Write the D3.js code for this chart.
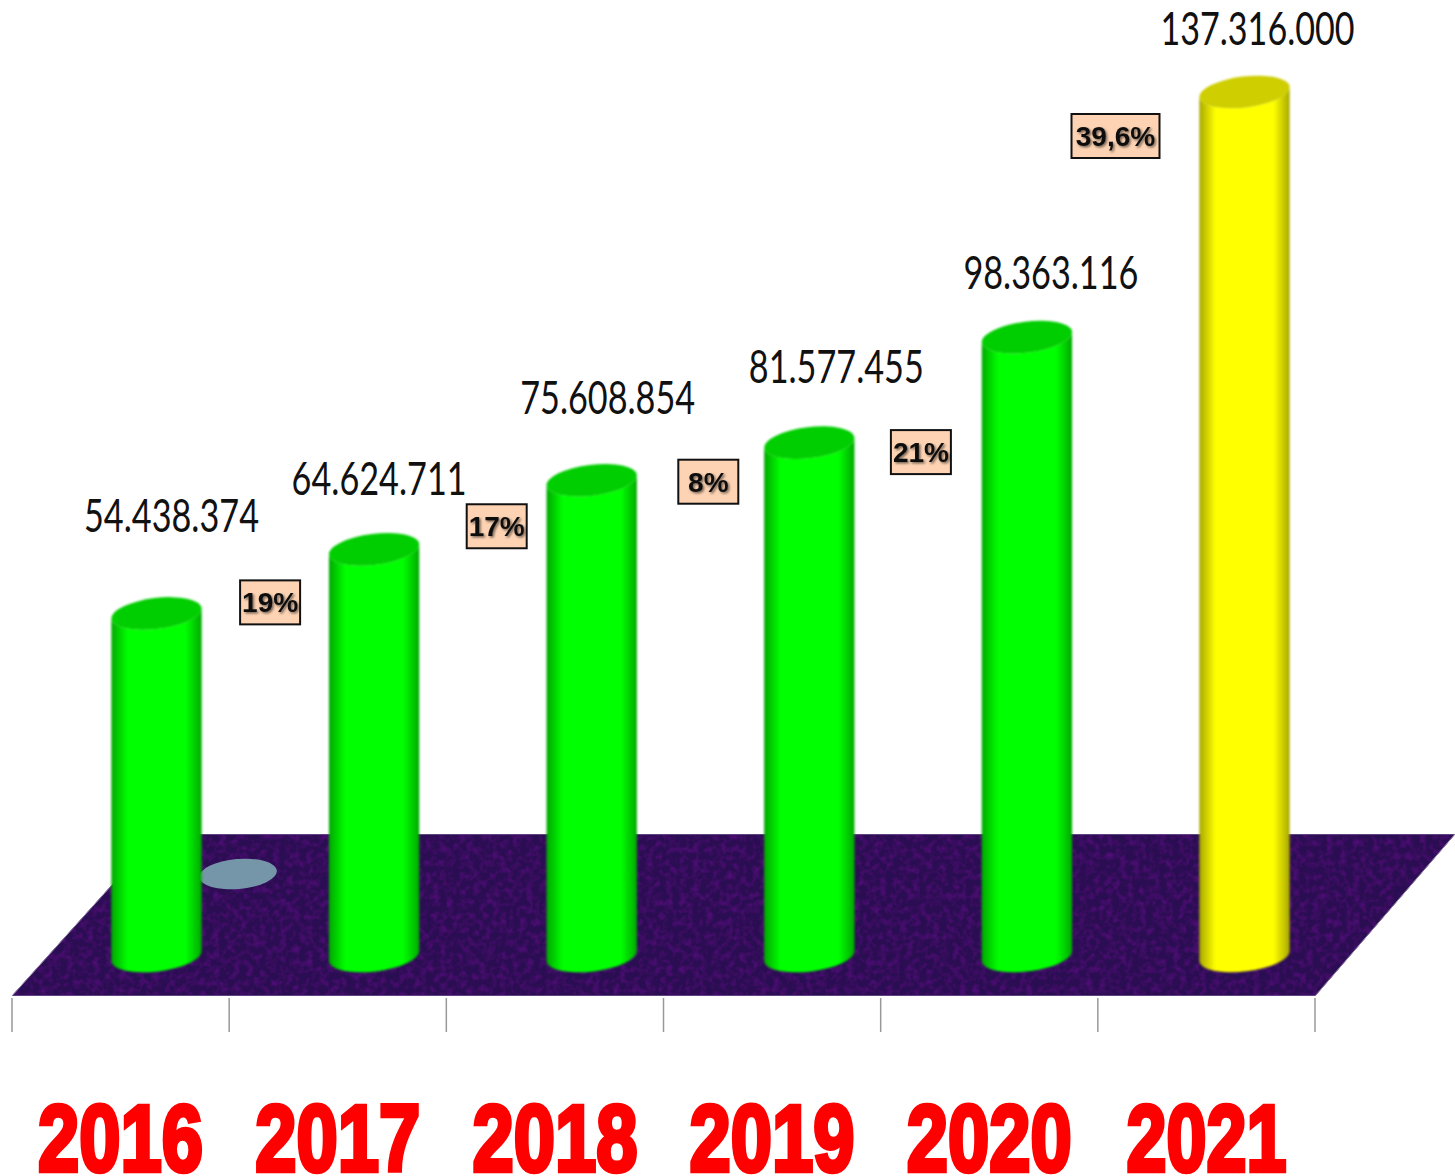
<!DOCTYPE html>
<html>
<head>
<meta charset="utf-8">
<style>
  body { margin: 0; background: #fff; }
  svg { display: block; }
</style>
<script src="https://cdn.jsdelivr.net/npm/d3@7"></script>
</head>
<body>
<svg id="chart"></svg>
<script>
const width = 1455;
const height = 1176;

// data
const years = ["2016", "2017", "2018", "2019", "2020", "2021"];
const values = [54438374, 64624711, 75608854, 81577455, 98363116, 137316000];
const valueLabels = ["54.438.374", "64.624.711", "75.608.854", "81.577.455", "98.363.116", "137.316.000"];
const growth = ["19%", "17%", "8%", "21%", "39,6%"];

// hand placed labels, offset from the top of the cylinder
const labelDx = [15, 5, 16, 27, 24, 13];
const labelDy = [-81, -54, -66, -60, -48, -47];
const growthDx = [-104, -95, -101, -106, -129];
const growthDy = [53, 46, 39, 115, 44];

const svg = d3.select("#chart")
    .attr("width", width)
    .attr("height", height);

const x = d3.scaleBand().domain(years).range([12, 1315]);
const barX = d3.scalePoint().domain(years).range([156.5, 1244.5]);
const y = d3.scaleLinear().domain([0, 137316000]).range([956, 92]);

const rx = 45.5, ry = 15.5, tilt = -7;
const green = d3.color("#00ff00");
const yellow = d3.color("#ffff00");
const barColor = (i) => i === years.length - 1 ? yellow : green;

const defs = svg.append("defs");

// side shading of the cylinders
[["gradGreen", "#00a800", "#00ff00"], ["gradYellow", "#a8a800", "#ffff00"]].forEach(function (g) {
    const grad = defs.append("linearGradient").attr("id", g[0]);
    grad.append("stop").attr("offset", "0%").attr("stop-color", g[1]);
    grad.append("stop").attr("offset", "18%").attr("stop-color", g[2]);
    grad.append("stop").attr("offset", "82%").attr("stop-color", g[2]);
    grad.append("stop").attr("offset", "100%").attr("stop-color", g[1]);
});

const soft = defs.append("filter").attr("id", "soft");
soft.append("feGaussianBlur").attr("stdDeviation", 0.9);

// speckle on the floor
const speckle = defs.append("filter").attr("id", "speckle")
    .attr("x", 0).attr("y", 0).attr("width", 1).attr("height", 1);
speckle.append("feTurbulence")
    .attr("type", "fractalNoise").attr("baseFrequency", 0.15).attr("numOctaves", 2).attr("seed", 4)
    .attr("result", "n");
speckle.append("feColorMatrix").attr("in", "n").attr("type", "matrix")
    .attr("values", "0 0 0 0 0.2  0 0 0 0 0  0 0 0 0 0.4  0.7 0 0 0 -0.3")
    .attr("result", "tint");
speckle.append("feComposite").attr("in", "tint").attr("in2", "SourceGraphic").attr("operator", "atop").attr("result", "t");
speckle.append("feMerge").call(function (m) {
    m.append("feMergeNode").attr("in", "SourceGraphic");
    m.append("feMergeNode").attr("in", "t");
});

const shadow = defs.append("filter").attr("id", "textShadow");
shadow.append("feDropShadow")
    .attr("dx", 1.5).attr("dy", 1.5).attr("stdDeviation", 1)
    .attr("flood-color", "#000").attr("flood-opacity", 0.55);

// floor
const floorLine = d3.line();
svg.append("path")
    .attr("d", floorLine([[12, 996], [1315, 996], [1455, 834], [158, 834]]) + "Z")
    .attr("fill", "#2a0a52")
    .attr("stroke", "#8d7fa3")
    .attr("stroke-width", 1)
    .attr("filter", "url(#speckle)");

// pale spot on the floor behind the first bar
svg.append("ellipse")
    .attr("cx", 238).attr("cy", 874)
    .attr("rx", 39).attr("ry", 15)
    .attr("transform", "rotate(-5 238 874)")
    .attr("fill", "#7596a8");

// ticks under the floor
const tickEdges = years.map((d) => x(d)).concat(x.range()[1]);
svg.selectAll("line.tick")
    .data(tickEdges)
    .enter().append("line")
    .attr("class", "tick")
    .attr("x1", (d) => d).attr("x2", (d) => d)
    .attr("y1", 998).attr("y2", 1032)
    .attr("stroke", "#999")
    .attr("stroke-width", 1.5);

// cylinders
const bars = svg.selectAll("g.bar")
    .data(values)
    .enter().append("g")
    .attr("class", "bar")
    .attr("filter", "url(#soft)");

function edge(cx, cy) {
    const t = tilt * Math.PI / 180;
    return {
        lx: cx - rx * Math.cos(t), ly: cy - rx * Math.sin(t),
        rx: cx + rx * Math.cos(t), ry: cy + rx * Math.sin(t)
    };
}

bars.append("path")
    .attr("d", function (d, i) {
        const cx = barX(years[i]);
        const a = edge(cx, y(d));
        const b = edge(cx, y(0));
        return `M${a.lx},${a.ly} L${b.lx},${b.ly} A${rx},${ry} ${tilt} 0 0 ${b.rx},${b.ry} L${a.rx},${a.ry} A${rx},${ry} ${tilt} 0 1 ${a.lx},${a.ly} Z`;
    })
    .attr("fill", (d, i) => i === years.length - 1 ? "url(#gradYellow)" : "url(#gradGreen)");

bars.append("ellipse")
    .attr("cx", (d, i) => barX(years[i]))
    .attr("cy", (d) => y(d))
    .attr("rx", rx).attr("ry", ry)
    .attr("transform", (d, i) => `rotate(${tilt} ${barX(years[i])} ${y(d)})`)
    .attr("fill", (d, i) => barColor(i).darker(0.6));

// value labels
svg.selectAll("text.value")
    .data(valueLabels)
    .enter().append("text")
    .attr("class", "value")
    .attr("x", (d, i) => barX(years[i]) + labelDx[i])
    .attr("y", (d, i) => y(values[i]) + labelDy[i])
    .attr("text-anchor", "middle")
    .attr("font-family", "Lato, 'Open Sans', sans-serif")
    .attr("font-size", 46)
    .attr("fill", "#111")
    .attr("textLength", (d) => d.length === 11 ? 194 : 175)
    .attr("lengthAdjust", "spacingAndGlyphs")
    .text((d) => d);

// growth boxes, sitting between a bar and the one before it
const boxes = svg.selectAll("g.growth")
    .data(growth)
    .enter().append("g")
    .attr("class", "growth")
    .attr("transform", (d, i) => `translate(${barX(years[i + 1]) + growthDx[i]},${y(values[i + 1]) + growthDy[i]})`);

const boxWidth = (d) => d.length > 3 ? 88 : 60;

boxes.append("rect")
    .attr("x", (d) => -boxWidth(d) / 2)
    .attr("y", -22)
    .attr("width", boxWidth)
    .attr("height", 44)
    .attr("fill", "#fdd3b3")
    .attr("stroke", "#111")
    .attr("stroke-width", 2);

boxes.append("text")
    .attr("text-anchor", "middle")
    .attr("y", 10)
    .attr("font-family", "'Liberation Sans', Arial, sans-serif")
    .attr("font-weight", "bold")
    .attr("font-size", 28)
    .attr("fill", "#111")
    .attr("filter", "url(#textShadow)")
    .text((d) => d);

// year labels, heavy and squeezed
const yearAxis = d3.axisBottom(x).tickSize(0).tickPadding(0);
const axisG = svg.append("g")
    .attr("transform", "translate(0,1171)")
    .call(yearAxis);
axisG.select(".domain").remove();
axisG.selectAll("text")
    .attr("y", 0)
    .attr("dy", 0)
    .attr("text-anchor", "middle")
    .attr("font-family", "'Liberation Sans', Arial, sans-serif")
    .attr("font-weight", "bold")
    .attr("font-size", 94)
    .attr("fill", "#ff0000")
    .attr("stroke", "#ff0000")
    .attr("stroke-width", 4.5)
    .attr("textLength", (d) => d === "2021" ? 160 : 165)
    .attr("lengthAdjust", "spacingAndGlyphs");
</script>
</body>
</html>
